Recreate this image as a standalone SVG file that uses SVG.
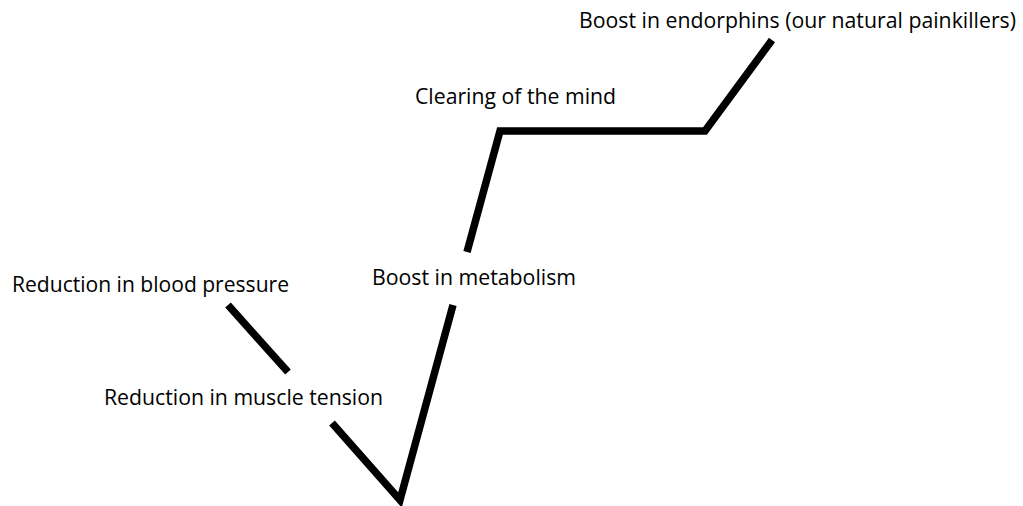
<svg xmlns="http://www.w3.org/2000/svg" width="1023" height="506" viewBox="0 0 1023 506">
<style>
.lbl{font-family:"Open Sans","Liberation Sans",sans-serif;font-size:21px;fill:#000}
.ln{fill:none;stroke:#000;stroke-width:7.5;stroke-linejoin:miter;stroke-linecap:butt}
</style>
<rect width="1023" height="506" fill="#fff"/>
<g id="connectors">
<polyline class="ln" points="228,305 288,372"/>
<polyline class="ln" points="332,423 400,500 453,305"/>
<polyline class="ln" points="467,252 500,131 705,131 772,40"/>
</g>
<g id="node-endorphins"><text class="lbl" x="579" y="28" textLength="437" lengthAdjust="spacingAndGlyphs">Boost in endorphins (our natural painkillers)</text></g>
<g id="node-mind"><text class="lbl" x="415" y="104" textLength="201" lengthAdjust="spacingAndGlyphs">Clearing of the mind</text></g>
<g id="node-metabolism"><text class="lbl" x="372" y="285" textLength="204" lengthAdjust="spacingAndGlyphs">Boost in metabolism</text></g>
<g id="node-blood"><text class="lbl" x="12" y="292" textLength="277" lengthAdjust="spacingAndGlyphs">Reduction in blood pressure</text></g>
<g id="node-muscle"><text class="lbl" x="104" y="405" textLength="279" lengthAdjust="spacingAndGlyphs">Reduction in muscle tension</text></g>
</svg>
